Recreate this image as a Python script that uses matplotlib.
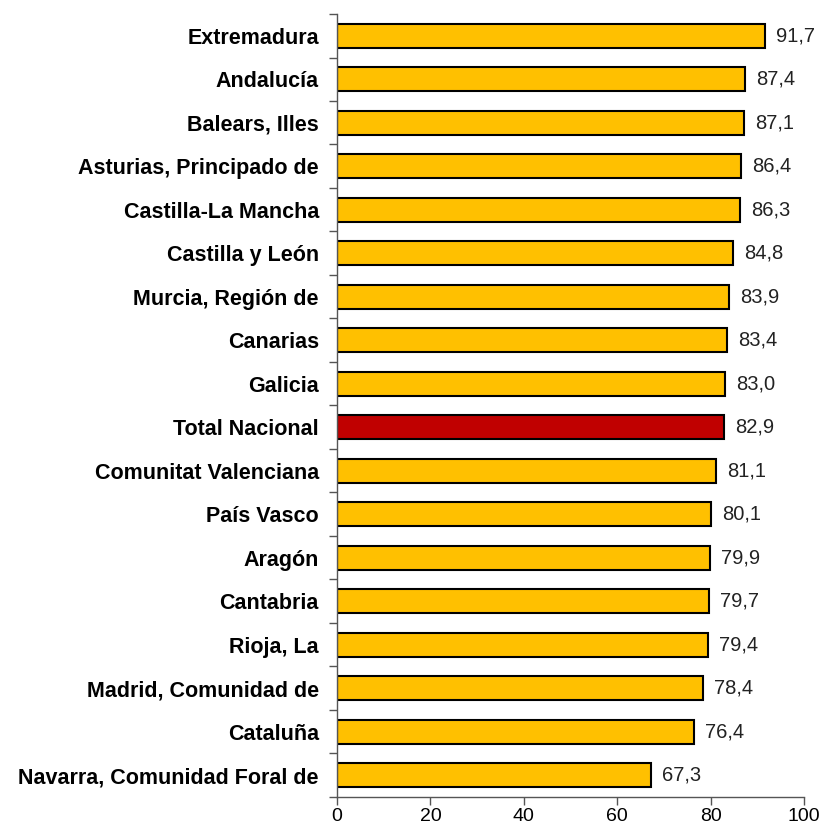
import matplotlib.pyplot as plt
import numpy as np

# datos
regiones = ['Extremadura', 'Andalucía', 'Balears, Illes', 'Asturias, Principado de',
            'Castilla-La Mancha', 'Castilla y León', 'Murcia, Región de', 'Canarias',
            'Galicia', 'Total Nacional', 'Comunitat Valenciana', 'País Vasco', 'Aragón',
            'Cantabria', 'Rioja, La', 'Madrid, Comunidad de', 'Cataluña',
            'Navarra, Comunidad Foral de']
valores = [91.7, 87.4, 87.1, 86.4, 86.3, 84.8, 83.9, 83.4, 83.0, 82.9, 81.1, 80.1,
           79.9, 79.7, 79.4, 78.4, 76.4, 67.3]
x_ticks = [0, 20, 40, 60, 80, 100]

plt.rcParams['font.family'] = ['Liberation Sans', 'DejaVu Sans']

fig = plt.figure(figsize=(8.35, 8.3), dpi=100)
ax = fig.add_axes([0.4036, 0.0400, 0.5594, 0.9431])

n = len(regiones)
y = np.arange(n)
colores = ['#C00000' if r == 'Total Nacional' else '#FFC000' for r in regiones]
ax.barh(y, valores, height=0.55, color=colores, edgecolor='black', linewidth=1.5)

# etiquetas de valor
for yi, v in zip(y, valores):
    ax.annotate(f'{v:.1f}'.replace('.', ','), (v, yi), xytext=(8, 0),
                textcoords='offset points', va='center', ha='left',
                fontsize=14.5, color='#222222')

ax.set_ylim(n - 0.5, -0.5)
ax.set_xlim(0, 100)
ax.set_yticks(y)
ax.set_yticklabels(regiones, fontsize=15.5, fontweight='bold')
ax.tick_params(axis='y', length=0, pad=13)
ax.set_yticks(np.arange(n + 1) - 0.5, minor=True)
ax.tick_params(axis='y', which='minor', length=6, width=1, color='#555555')
ax.set_xticks(x_ticks)
ax.tick_params(axis='x', length=6, width=1, color='#555555', labelsize=14, pad=2)

for s in ['top', 'right']:
    ax.spines[s].set_visible(False)
for s in ['left', 'bottom']:
    ax.spines[s].set_color('#555555')
    ax.spines[s].set_linewidth(1)

fig.savefig('out.png', dpi=100)
